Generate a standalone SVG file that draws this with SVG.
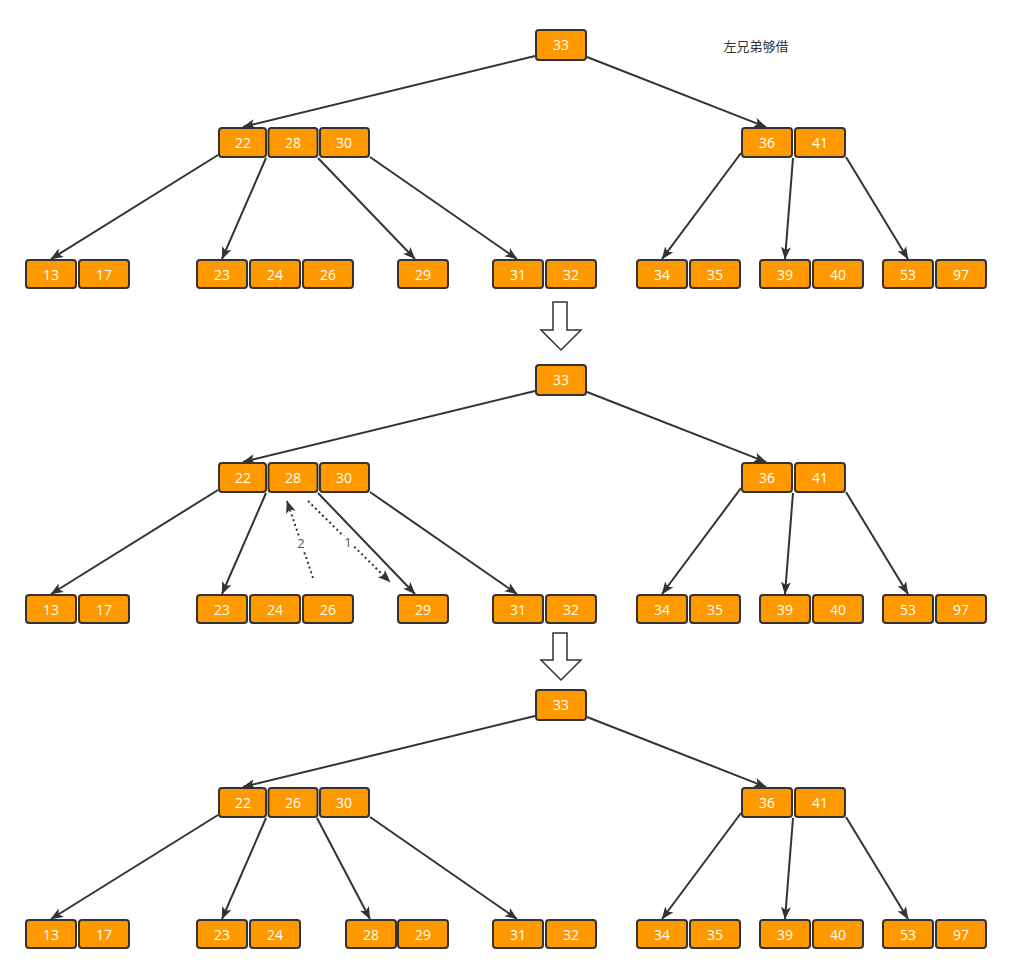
<svg xmlns="http://www.w3.org/2000/svg" width="1012" height="974" viewBox="0 0 1012 974">
<defs>
<style>
.b{fill:#FF9900;stroke:#333333;stroke-width:2}
.t{fill:#FFFFFF;font-family:"Open Sans","Noto Sans",sans-serif;font-size:14px;text-anchor:middle}
.e{fill:none;stroke:#333333;stroke-width:2;marker-end:url(#ah)}
.d{fill:none;stroke:#333333;stroke-width:2;stroke-dasharray:2 3;marker-end:url(#ah)}
.lbl{fill:#555555;font-family:"Open Sans","Noto Sans",sans-serif;font-size:13px;text-anchor:middle}
.lb{fill:#FFFFFF}
.ha{fill:#FFFFFF;stroke:#333333;stroke-width:1.5}
</style>
<marker id="ah" markerUnits="userSpaceOnUse" markerWidth="13" markerHeight="11" viewBox="0 0 13 11" refX="12" refY="5.5" orient="auto">
<path d="M0,0.5 L12.5,5.5 L0,10.5 L3,5.5 Z" fill="#333333"/>
</marker>
<g id="tree">
<g id="n33"><rect class="b" x="536" y="30" width="50" height="30" rx="3"/><text class="t" x="561" y="50">33</text></g>
<g id="n36"><rect class="b" x="742" y="128" width="50" height="29" rx="3"/><text class="t" x="767" y="148">36</text><rect class="b" x="795" y="128" width="50" height="29" rx="3"/><text class="t" x="820" y="148">41</text></g>
<g id="n13"><rect class="b" x="26" y="260" width="50" height="28" rx="3"/><text class="t" x="51" y="280">13</text><rect class="b" x="79" y="260" width="50" height="28" rx="3"/><text class="t" x="104" y="280">17</text></g>
<g id="n31"><rect class="b" x="493" y="260" width="50" height="28" rx="3"/><text class="t" x="518" y="280">31</text><rect class="b" x="546" y="260" width="50" height="28" rx="3"/><text class="t" x="571" y="280">32</text></g>
<g id="n34"><rect class="b" x="637" y="260" width="50" height="28" rx="3"/><text class="t" x="662" y="280">34</text><rect class="b" x="690" y="260" width="50" height="28" rx="3"/><text class="t" x="715" y="280">35</text></g>
<g id="n39"><rect class="b" x="760" y="260" width="50" height="28" rx="3"/><text class="t" x="785" y="280">39</text><rect class="b" x="813" y="260" width="50" height="28" rx="3"/><text class="t" x="838" y="280">40</text></g>
<g id="n53"><rect class="b" x="883" y="260" width="50" height="28" rx="3"/><text class="t" x="908" y="280">53</text><rect class="b" x="936" y="260" width="50" height="28" rx="3"/><text class="t" x="961" y="280">97</text></g>
</g>
<g id="common-edges">
<path class="e" d="M535,56 L243,127"/>
<path class="e" d="M587,57 L766,127"/>
<path class="e" d="M218,155 L51,259"/>
<path class="e" d="M266,158 L222,259"/>
<path class="e" d="M370,157 L517,259"/>
<path class="e" d="M741,153 L662,259"/>
<path class="e" d="M793,158 L785,259"/>
<path class="e" d="M846,157 L908,259"/>
</g>
</defs>

<text x="756" y="51" font-family="'Noto Sans CJK SC',sans-serif" font-size="13" fill="#333333" text-anchor="middle">左兄弟够借</text>

<!-- Tree 1 -->
<g id="tree1">
<g id="t1-edges"><use href="#common-edges"/><path class="e" d="M318,158 L415,259"/></g>
<use href="#tree"/>
<g id="t1-n22"><rect class="b" x="219" y="128" width="47" height="29" rx="3"/><text class="t" x="243" y="148">22</text><rect class="b" x="268.5" y="128" width="49" height="29" rx="3"/><text class="t" x="293" y="148">28</text><rect class="b" x="320" y="128" width="49" height="29" rx="3"/><text class="t" x="344" y="148">30</text></g>
<g id="t1-n23"><rect class="b" x="197" y="260" width="50" height="28" rx="3"/><text class="t" x="222" y="280">23</text><rect class="b" x="250" y="260" width="50" height="28" rx="3"/><text class="t" x="275" y="280">24</text><rect class="b" x="303" y="260" width="50" height="28" rx="3"/><text class="t" x="328" y="280">26</text></g>
<g id="t1-n29"><rect class="b" x="398" y="260" width="50" height="28" rx="3"/><text class="t" x="423" y="280">29</text></g>
</g>

<g id="arrow1"><polygon class="ha" points="553,302 567,302 567,330 581,330 561,350 541,330 553,330"/></g>

<!-- Tree 2 -->
<g id="tree2" transform="translate(0,335)">
<g id="t2-edges"><use href="#common-edges"/><path class="e" d="M318,158 L415,259"/></g>
<use href="#tree"/>
<g id="t2-n22"><rect class="b" x="219" y="128" width="47" height="29" rx="3"/><text class="t" x="243" y="148">22</text><rect class="b" x="268.5" y="128" width="49" height="29" rx="3"/><text class="t" x="293" y="148">28</text><rect class="b" x="320" y="128" width="49" height="29" rx="3"/><text class="t" x="344" y="148">30</text></g>
<g id="t2-n23"><rect class="b" x="197" y="260" width="50" height="28" rx="3"/><text class="t" x="222" y="280">23</text><rect class="b" x="250" y="260" width="50" height="28" rx="3"/><text class="t" x="275" y="280">24</text><rect class="b" x="303" y="260" width="50" height="28" rx="3"/><text class="t" x="328" y="280">26</text></g>
<g id="t2-n29"><rect class="b" x="398" y="260" width="50" height="28" rx="3"/><text class="t" x="423" y="280">29</text></g>
<g id="t2-moves">
<path class="d" d="M308,166 L390,247"/>
<rect class="lb" x="343" y="201" width="10" height="14"/>
<text class="lbl" x="348" y="212">1</text>
<path class="d" d="M313,243 L287,166"/>
<rect class="lb" x="296" y="202" width="10" height="14"/>
<text class="lbl" x="301" y="213">2</text>
</g>
</g>

<g id="arrow2"><polygon class="ha" points="553,633 567,633 567,660 581,660 561,680 541,660 553,660"/></g>

<!-- Tree 3 -->
<g id="tree3" transform="translate(0,660)">
<g id="t3-edges"><use href="#common-edges"/><path class="e" d="M317,158 L370,259"/></g>
<use href="#tree"/>
<g id="t3-n22"><rect class="b" x="219" y="128" width="47" height="29" rx="3"/><text class="t" x="243" y="148">22</text><rect class="b" x="268.5" y="128" width="49" height="29" rx="3"/><text class="t" x="293" y="148">26</text><rect class="b" x="320" y="128" width="49" height="29" rx="3"/><text class="t" x="344" y="148">30</text></g>
<g id="t3-n23"><rect class="b" x="197" y="260" width="50" height="28" rx="3"/><text class="t" x="222" y="280">23</text><rect class="b" x="250" y="260" width="50" height="28" rx="3"/><text class="t" x="275" y="280">24</text></g>
<g id="t3-n28"><rect class="b" x="346" y="260" width="50" height="28" rx="3"/><text class="t" x="371" y="280">28</text><rect class="b" x="398" y="260" width="50" height="28" rx="3"/><text class="t" x="423" y="280">29</text></g>
</g>
</svg>
